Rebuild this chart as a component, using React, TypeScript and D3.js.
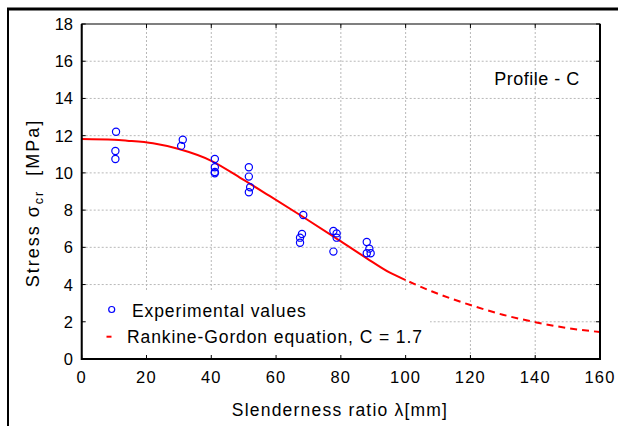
import React from "react";
import * as d3 from "d3";

const xTicks = [0, 20, 40, 60, 80, 100, 120, 140, 160];
const yTicks = [0, 2, 4, 6, 8, 10, 12, 14, 16, 18];

const expLambda = [10.6, 10.4, 10.4, 31.2, 30.7, 41.1, 41.1, 41.1, 41.1, 51.6, 51.6, 52.0, 51.6, 68.4, 68.0, 67.4, 67.4, 77.7, 78.7, 78.7, 77.7, 88.0, 88.8, 88.0, 89.2];
const expStress = [12.21, 11.18, 10.75, 11.78, 11.45, 10.75, 10.3, 10.05, 9.98, 10.3, 9.8, 9.23, 8.96, 7.74, 6.72, 6.52, 6.25, 6.88, 6.75, 6.52, 5.77, 6.29, 5.93, 5.68, 5.68];

const curveLambda = [0, 10, 14, 22, 30, 40, 50, 58, 68, 78, 88, 95, 100];
const curveStress = [11.82, 11.78, 11.73, 11.59, 11.28, 10.65, 9.62, 8.76, 7.67, 6.55, 5.41, 4.65, 4.24];
const dashLambda = [100, 108, 120, 130, 140, 150, 160];
const dashStress = [4.24, 3.64, 2.9, 2.38, 1.98, 1.66, 1.45];

const FONT = "'Liberation Sans', Arial, sans-serif";

export default function App() {
  const W = 618, H = 426;
  const x = d3.scaleLinear().domain([0, 160]).range([81.7, 600]);
  const y = d3.scaleLinear().domain([0, 18]).range([359, 24]);
  const line = d3
    .line<[number, number]>()
    .x((d) => x(d[0]))
    .y((d) => y(d[1]))
    .curve(d3.curveMonotoneX);
  const solid = line(curveLambda.map((l, i) => [l, curveStress[i]] as [number, number]));
  const dashed = line(dashLambda.map((l, i) => [l, dashStress[i]] as [number, number]));
  const [x0, x1] = x.range();
  const [y0, y1] = y.range();
  const tickLen = 4;

  return (
    <svg width={W} height={H} style={{ position: "absolute", left: 0, top: 0, background: "#fff" }} fontFamily={FONT}>
      <rect x={0} y={0} width={W} height={H} fill="#fff" />
      {/* outer frame */}
      <line x1={7} y1={9} x2={W} y2={9} stroke="#000" strokeWidth={3} />
      <line x1={8} y1={8} x2={8} y2={H} stroke="#000" strokeWidth={2} />

      {/* grid */}
      {xTicks.slice(1, -1).map((t) => (
        <line key={"gx" + t} x1={x(t)} x2={x(t)} y1={y1} y2={y0} stroke="#b8b8b8" strokeDasharray="2,2" strokeWidth={1} />
      ))}
      {yTicks.slice(1, -1).map((t) => (
        <line key={"gy" + t} x1={x0} x2={x1} y1={y(t)} y2={y(t)} stroke="#b8b8b8" strokeDasharray="2,2" strokeWidth={1} />
      ))}

      {/* legend box background */}
      <rect x={83} y={291} width={347} height={67} fill="#fff" />

      {/* curve */}
      <path d={solid || ""} fill="none" stroke="#ff0000" strokeWidth={2} />
      <path d={dashed || ""} fill="none" stroke="#ff0000" strokeWidth={2} strokeDasharray="7,5" strokeDashoffset={-4} />

      {/* points */}
      {expLambda.map((l, i) => (
        <circle key={"p" + i} cx={x(l)} cy={y(expStress[i])} r={3.6} fill="none" stroke="#0000ff" strokeWidth={1.2} />
      ))}

      {/* axes box */}
      <rect x={x0} y={y1} width={x1 - x0} height={y0 - y1} fill="none" stroke="#000" strokeWidth={1} />
      <line x1={x0} x2={x0} y1={y1} y2={y0 + 1} stroke="#000" strokeWidth={2} />
      <line x1={x0} x2={x1} y1={y0} y2={y0} stroke="#000" strokeWidth={2} />
      <line x1={x1} x2={x1} y1={y1} y2={y0 + 1} stroke="#000" strokeWidth={2} />

      {/* ticks */}
      {xTicks.map((t) => (
        <g key={"tx" + t}>
          <line x1={x(t)} x2={x(t)} y1={y0} y2={y0 - tickLen} stroke="#000" />
          <line x1={x(t)} x2={x(t)} y1={y1} y2={y1 + tickLen} stroke="#000" />
          <text x={x(t)} y={383} textAnchor="middle" fontSize={16.5} letterSpacing={1.2} fill="#000">
            {t}
          </text>
        </g>
      ))}
      {yTicks.map((t) => (
        <g key={"ty" + t}>
          <line x1={x0} x2={x0 + tickLen} y1={y(t)} y2={y(t)} stroke="#000" />
          <line x1={x1} x2={x1 - tickLen} y1={y(t)} y2={y(t)} stroke="#000" />
          <text x={73} y={y(t) + 6} textAnchor="end" fontSize={16.5} fill="#000">
            {t}
          </text>
        </g>
      ))}

      {/* axis titles */}
      <text x={340} y={416} textAnchor="middle" fontSize={17.5} letterSpacing={1.2} fill="#000">
        Slenderness ratio λ[mm]
      </text>
      <text transform="translate(39,203) rotate(-90)" textAnchor="middle" fontSize={18} letterSpacing={2} fill="#000">
        Stress σ<tspan fontSize={12.5} dy={4}>cr</tspan>
        <tspan dy={-4}>{"\u00a0\u00a0"}[MPa]</tspan>
      </text>

      {/* annotation */}
      <text x={537} y={85} textAnchor="middle" fontSize={18} letterSpacing={0.5} fill="#000">
        Profile - C
      </text>

      {/* legend */}
      <circle cx={111.7} cy={309.5} r={3} fill="none" stroke="#0000ff" strokeWidth={1.2} />
      <text x={132} y={316.5} fontSize={17.5} letterSpacing={0.9} fill="#000">
        Experimental values
      </text>
      <line x1={106.5} x2={111.5} y1={336.7} y2={336.7} stroke="#ff0000" strokeWidth={2} />
      <text x={127} y={342.5} fontSize={17.5} letterSpacing={0.9} fill="#000">
        Rankine-Gordon equation, C = 1.7
      </text>
    </svg>
  );
}
